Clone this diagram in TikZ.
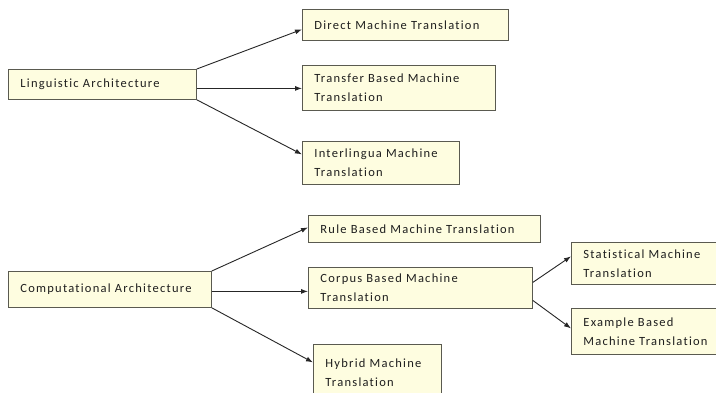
\documentclass[tikz,border=0pt]{standalone}
\usepackage{fontspec}
\setmainfont{Carlito}[LetterSpace=10, Ligatures=NoCommon]
\usetikzlibrary{arrows.meta,calc}
\definecolor{boxfill}{RGB}{254,253,224}
\definecolor{boxline}{RGB}{90,90,80}
\definecolor{txt}{RGB}{30,30,30}
\begin{document}
\begin{tikzpicture}[x=1pt,y=-1pt,
  box/.style={draw=boxline, line width=0.8pt, fill=boxfill, anchor=north west,
    inner xsep=12pt, inner ysep=0pt, align=left,
    font=\fontsize{12.5}{19}\selectfont, text=txt},
  arr/.style={draw=black!85, line width=0.9pt, -{Latex[length=7pt,width=5pt]}}]
\clip (0,0) rectangle (716,392);
\fill[white] (0,0) rectangle (716,392);

\node[box, minimum width=188pt, minimum height=30pt, text width=164pt] (la) at (8,69) {Linguistic Architecture};
\node[box, minimum width=206pt, minimum height=31pt, text width=182pt] (dmt) at (302,9) {Direct Machine Translation};
\node[box, minimum width=193pt, minimum height=45pt, text width=169pt] (tbmt) at (302,65) {Transfer Based Machine\\Translation};
\node[box, minimum width=157pt, minimum height=43pt, text width=133pt] (imt) at (302,141) {Interlingua Machine\\Translation};

\node[box, minimum width=203pt, minimum height=36pt, text width=179pt] (ca) at (8,271) {Computational Architecture};
\node[box, minimum width=232pt, minimum height=27pt, text width=208pt] (rbmt) at (308,215) {Rule Based Machine Translation};
\node[box, minimum width=224pt, minimum height=41pt, text width=200pt] (cbmt) at (308,267) {Corpus Based Machine\\Translation};
\node[box, minimum width=125pt, minimum height=56pt, text width=104pt] (hmt) at (313,344) {Hybrid Machine\\Translation};
\node[box, minimum width=160pt, minimum height=42pt, text width=136pt] (smt) at (571,242) {Statistical Machine\\Translation};
\node[box, minimum width=160pt, minimum height=46pt, text width=136pt] (ebmt) at (571,308) {Example Based\\Machine Translation};

\draw[arr] (la.north east) -- ([yshift=-4.5pt]dmt.west);
\coordinate (s1) at ([yshift=-4pt]la.east);
\draw[arr] (s1) -- (s1 -| tbmt.west);
\draw[arr] (la.south east) -- ([yshift=8.5pt]imt.west);

\draw[arr] (ca.north east) -- ([yshift=1.5pt]rbmt.west);
\coordinate (s2) at ([yshift=-2pt]ca.east);
\draw[arr] (s2) -- (s2 -| cbmt.west);
\draw[arr] (ca.south east) -- ([yshift=10pt]hmt.west);

\draw[arr] ([yshift=5.5pt]cbmt.east) -- ([yshift=7pt]smt.west);
\draw[arr] ([yshift=-12.5pt]cbmt.east) -- ([yshift=3pt]ebmt.west);
\end{tikzpicture}
\end{document}
